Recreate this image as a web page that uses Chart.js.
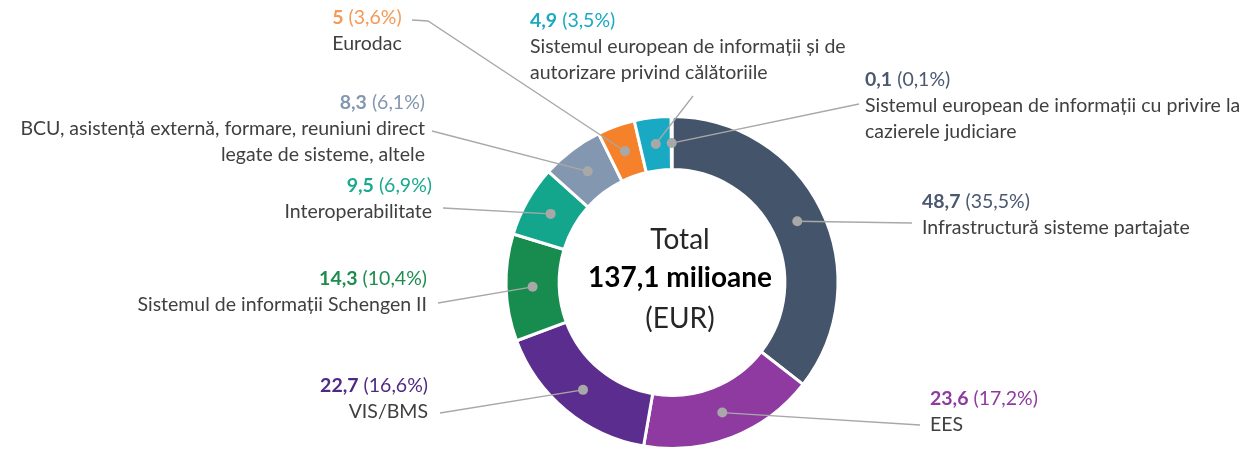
<!DOCTYPE html>
<html>
<head>
<meta charset="utf-8">
<script src="https://cdn.jsdelivr.net/npm/chart.js@4.4.1/dist/chart.umd.min.js"></script>
<style>
  html, body { margin: 0; padding: 0; background: #fff; }
  #wrap { position: relative; width: 1254px; height: 450px; }
</style>
</head>
<body>
<div id="wrap"><canvas id="budgetChart" width="1254" height="450"></canvas></div>
<script>
// data (milioane EUR)
const categories = [
    ['Infrastructură sisteme partajate'],
    ['EES'],
    ['VIS/BMS'],
    ['Sistemul de informații Schengen II'],
    ['Interoperabilitate'],
    ['BCU, asistență externă, formare, reuniuni direct', 'legate de sisteme, altele'],
    ['Eurodac'],
    ['Sistemul european de informații și de', 'autorizare privind călătoriile'],
    ['Sistemul european de informații cu privire la', 'cazierele judiciare']
];
const values = [48.7, 23.6, 22.7, 14.3, 9.5, 8.3, 5, 4.9, 0.1];
const shares = [35.5, 17.2, 16.6, 10.4, 6.9, 6.1, 3.6, 3.5, 0.1];
const totalText = ['Total', '137,1 milioane', '(EUR)'];

// styling
const sliceColors = ['#44546A', '#8E3AA0', '#5A2D8E', '#178C4E', '#14A68C', '#8497B0', '#F5822A', '#19A9C3', '#44546A'];
const valueColors = ['#4A5870', '#8E3AA0', '#4E2A84', '#1E8C4E', '#19A98E', '#8497B0', '#F59A56', '#19A9C3', '#4A5870'];
const nameColor = '#404040';
const lineColor = '#A8A8A8';
const fontFamily = 'Lato, "Open Sans", sans-serif';
const labelSize = 19.5;

// where each label sits and where its leader line ends
const labelLayout = [
    { x: 922, y: 202, align: 'left',   line: [[912, 223]] },
    { x: 930, y: 399, align: 'left',   line: [[920, 425]] },
    { x: 428, y: 386, align: 'right',  line: [[440, 413]] },
    { x: 427, y: 279, align: 'right',  line: [[438, 303]] },
    { x: 432, y: 186, align: 'right',  line: [[443, 208]] },
    { x: 425, y: 103, align: 'right',  line: [[432, 131]] },
    { x: 367, y: 18,  align: 'center', line: [[412, 20], [428, 21]] },
    { x: 530, y: 21,  align: 'left',   line: [[693, 96]] },
    { x: 865, y: 80,  align: 'left',   line: [[859, 104]] }
];
const lineHeight = 26;

function fmt(n) {
    return String(n).replace('.', ',');
}

const calloutPlugin = {
    id: 'callouts',
    afterDraw(chart) {
        const ctx = chart.ctx;
        const arcs = chart.getDatasetMeta(0).data;
        ctx.save();

        arcs.forEach((arc, i) => {
            const p = arc.getProps(['x', 'y', 'startAngle', 'endAngle', 'innerRadius', 'outerRadius'], true);
            const mid = (p.startAngle + p.endAngle) / 2;
            const r = (p.innerRadius + p.outerRadius) / 2;
            const dx = p.x + Math.cos(mid) * r;
            const dy = p.y + Math.sin(mid) * r;
            const lay = labelLayout[i];

            // leader line
            ctx.strokeStyle = lineColor;
            ctx.lineWidth = 1.3;
            ctx.beginPath();
            ctx.moveTo(lay.line[0][0], lay.line[0][1]);
            for (let k = 1; k < lay.line.length; k++) ctx.lineTo(lay.line[k][0], lay.line[k][1]);
            ctx.lineTo(dx, dy);
            ctx.stroke();

            // dot
            ctx.fillStyle = lineColor;
            ctx.beginPath();
            ctx.arc(dx, dy, 5, 0, Math.PI * 2);
            ctx.fill();

            // value line: bold value + normal share
            ctx.textBaseline = 'middle';
            const boldPart = fmt(values[i]);
            const normPart = ' (' + fmt(shares[i].toFixed(1)) + '%)';
            ctx.font = 'bold ' + labelSize + 'px ' + fontFamily;
            const wb = ctx.measureText(boldPart).width;
            ctx.font = labelSize + 'px ' + fontFamily;
            const wn = ctx.measureText(normPart).width;
            let x0 = lay.x;
            if (lay.align === 'right') x0 = lay.x - wb - wn;
            if (lay.align === 'center') x0 = lay.x - (wb + wn) / 2;
            ctx.textAlign = 'left';
            ctx.fillStyle = valueColors[i];
            ctx.font = 'bold ' + labelSize + 'px ' + fontFamily;
            ctx.fillText(boldPart, x0, lay.y);
            ctx.font = labelSize + 'px ' + fontFamily;
            ctx.fillText(normPart, x0 + wb, lay.y);

            // category name lines
            ctx.fillStyle = nameColor;
            ctx.textAlign = lay.align;
            categories[i].forEach((t, k) => {
                ctx.fillText(t, lay.x, lay.y + lineHeight * (k + 1));
            });
        });

        // centre text
        const c = arcs[0];
        const cx = c.x + 8;
        const cy = c.y;
        ctx.textAlign = 'center';
        ctx.fillStyle = '#262626';
        ctx.font = '28px ' + fontFamily;
        ctx.fillText(totalText[0], cx, cy - 43);
        ctx.fillStyle = '#000';
        ctx.font = 'bold 28px ' + fontFamily;
        ctx.fillText(totalText[1], cx, cy - 5);
        ctx.fillStyle = '#262626';
        ctx.font = '28px ' + fontFamily;
        ctx.fillText(totalText[2], cx, cy + 36);

        ctx.restore();
    }
};

const ctx = document.getElementById('budgetChart').getContext('2d');
const budgetChart = new Chart(ctx, {
    type: 'doughnut',
    data: {
        labels: categories.map(c => c.join(' ')),
        datasets: [{
            data: values,
            backgroundColor: sliceColors,
            borderColor: '#ffffff',
            borderWidth: 3
        }]
    },
    options: {
        responsive: false,
        animation: false,
        cutout: '68%',
        layout: {
            padding: { left: 504, right: 414, top: 115, bottom: 0 }
        },
        plugins: {
            legend: { display: false },
            tooltip: { enabled: false }
        }
    },
    plugins: [calloutPlugin]
});
</script>
</body>
</html>
